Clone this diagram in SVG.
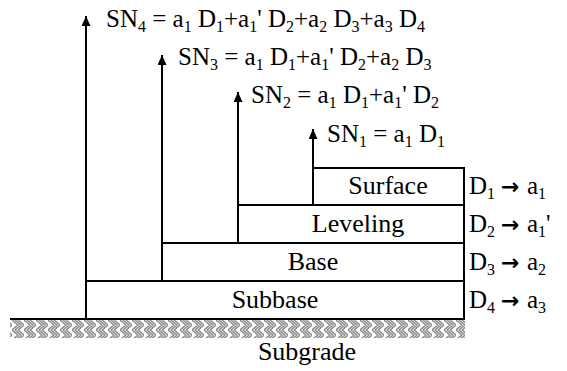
<svg xmlns="http://www.w3.org/2000/svg" width="567" height="371" viewBox="0 0 567 371">
<style>
text{font-family:"Liberation Serif","Times New Roman",serif;fill:#000}
.sn{font-size:25px}
.sn .s{font-size:16px}
.ly{font-size:26px}
.d{font-size:25px}
.d .s{font-size:16px}
.layer{fill:#fff;stroke:#000;stroke-width:2}
.shaft{stroke:#000;stroke-width:2;fill:none}
.ar{font-family:"DejaVu Sans",sans-serif;font-weight:bold;font-size:22px}
</style>
<defs>
<marker id="ah" viewBox="0 0 10 10" refX="10" refY="5" markerWidth="10" markerHeight="9" markerUnits="userSpaceOnUse" orient="auto" preserveAspectRatio="none">
<path d="M0,0 L10,5 L0,10 Z" fill="#000"/>
</marker>
<pattern id="hatch" width="12" height="10" patternUnits="userSpaceOnUse">
<rect width="12" height="10" fill="#fff"/>
<path d="M0,0 L6,5 L0,10 M6,0 L12,5 L6,10 M3,0 L9,5 L3,10" stroke="#888" stroke-width="1.4" fill="none"/>
</pattern>
</defs>
<g id="subgrade">
<rect x="10" y="319" width="455" height="19" fill="url(#hatch)"/>
<line x1="10" y1="319" x2="465" y2="319" stroke="#000" stroke-width="2"/>
<text class="ly" x="307" y="360" text-anchor="middle">Subgrade</text>
</g>
<g id="subbase">
<rect class="layer" x="86" y="281" width="378" height="38"/>
<text class="ly" x="275" y="308" text-anchor="middle">Subbase</text>
</g>
<g id="base">
<rect class="layer" x="162" y="243" width="302" height="38"/>
<text class="ly" x="313" y="270" text-anchor="middle">Base</text>
</g>
<g id="leveling">
<rect class="layer" x="238" y="205" width="226" height="38"/>
<text class="ly" x="358" y="232" text-anchor="middle">Leveling</text>
</g>
<g id="surface">
<rect class="layer" x="313" y="168" width="151" height="37"/>
<text class="ly" x="388" y="194" text-anchor="middle">Surface</text>
</g>
<g id="connectors">
<line class="shaft" x1="86" y1="319" x2="86" y2="16" marker-end="url(#ah)"/>
<line class="shaft" x1="162" y1="281" x2="162" y2="55" marker-end="url(#ah)"/>
<line class="shaft" x1="238" y1="243" x2="238" y2="92" marker-end="url(#ah)"/>
<line class="shaft" x1="313" y1="205" x2="313" y2="129" marker-end="url(#ah)"/>
</g>
<g id="sn-labels">
<text class="sn" x="106" y="27">SN<tspan class="s" dy="5">4</tspan><tspan dy="-5"> = a</tspan><tspan class="s" dy="5">1</tspan><tspan dy="-5"> D</tspan><tspan class="s" dy="5">1</tspan><tspan dy="-5">+a</tspan><tspan class="s" dy="5">1</tspan><tspan dy="-5">' D</tspan><tspan class="s" dy="5">2</tspan><tspan dy="-5">+a</tspan><tspan class="s" dy="5">2</tspan><tspan dy="-5"> D</tspan><tspan class="s" dy="5">3</tspan><tspan dy="-5">+a</tspan><tspan class="s" dy="5">3</tspan><tspan dy="-5"> D</tspan><tspan class="s" dy="5">4</tspan></text>
<text class="sn" x="178" y="65">SN<tspan class="s" dy="5">3</tspan><tspan dy="-5"> = a</tspan><tspan class="s" dy="5">1</tspan><tspan dy="-5"> D</tspan><tspan class="s" dy="5">1</tspan><tspan dy="-5">+a</tspan><tspan class="s" dy="5">1</tspan><tspan dy="-5">' D</tspan><tspan class="s" dy="5">2</tspan><tspan dy="-5">+a</tspan><tspan class="s" dy="5">2</tspan><tspan dy="-5"> D</tspan><tspan class="s" dy="5">3</tspan></text>
<text class="sn" x="251" y="103">SN<tspan class="s" dy="5">2</tspan><tspan dy="-5"> = a</tspan><tspan class="s" dy="5">1</tspan><tspan dy="-5"> D</tspan><tspan class="s" dy="5">1</tspan><tspan dy="-5">+a</tspan><tspan class="s" dy="5">1</tspan><tspan dy="-5">' D</tspan><tspan class="s" dy="5">2</tspan></text>
<text class="sn" x="327" y="142">SN<tspan class="s" dy="5">1</tspan><tspan dy="-5"> = a</tspan><tspan class="s" dy="5">1</tspan><tspan dy="-5"> D</tspan><tspan class="s" dy="5">1</tspan></text>
</g>
<g id="d-labels">
<text class="d" x="469" y="194">D<tspan class="s" dy="5">1</tspan><tspan class="ar" x="501" dy="-5">→</tspan><tspan x="527">a</tspan><tspan class="s" dy="5">1</tspan></text>
<text class="d" x="469" y="232">D<tspan class="s" dy="5">2</tspan><tspan class="ar" x="501" dy="-5">→</tspan><tspan x="527">a</tspan><tspan class="s" dy="5">1</tspan><tspan dy="-5">'</tspan></text>
<text class="d" x="469" y="270">D<tspan class="s" dy="5">3</tspan><tspan class="ar" x="501" dy="-5">→</tspan><tspan x="527">a</tspan><tspan class="s" dy="5">2</tspan></text>
<text class="d" x="469" y="308">D<tspan class="s" dy="5">4</tspan><tspan class="ar" x="501" dy="-5">→</tspan><tspan x="527">a</tspan><tspan class="s" dy="5">3</tspan></text>
</g>
</svg>
